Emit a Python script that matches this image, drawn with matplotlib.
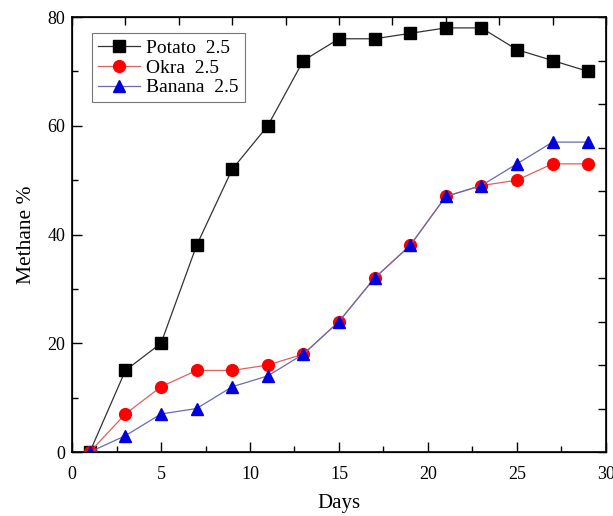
import numpy as np
import matplotlib
matplotlib.use("Agg")
import matplotlib.pyplot as plt
from matplotlib.ticker import MultipleLocator, NullFormatter

# ── Data ─────────────────────────────────────────────────
days   = [1, 3, 5, 7, 9, 11, 13, 15, 17, 19, 21, 23, 25, 27, 29]
potato = [0, 15, 20, 38, 52, 60, 72, 76, 76, 77, 78, 78, 74, 72, 70]
okra   = [0, 7, 12, 15, 15, 16, 18, 24, 32, 38, 47, 49, 50, 53, 53]
banana = [0, 3, 7, 8, 12, 14, 18, 24, 32, 38, 47, 49, 53, 57, 57]

plt.rcParams["font.family"] = ["Liberation Serif", "DejaVu Serif"]

fig = plt.figure(figsize=(6.13, 5.16), dpi=100)
ax = fig.add_axes([0.1175, 0.124, 0.871, 0.843])

ax.plot(days, potato, color="#333333", lw=0.9, marker="s", ms=8,
        mfc="black", mec="black", label="Potato  2.5", zorder=3)
ax.plot(days, okra, color="#e06060", lw=0.9, marker="o", ms=8.5,
        mfc="red", mec="red", label="Okra  2.5", zorder=4)
ax.plot(days, banana, color="#6a6ab0", lw=0.9, marker="^", ms=9,
        mfc="#0000dd", mec="#0000dd", label="Banana  2.5", zorder=5)

ax.set_xlim(0, 30)
ax.set_ylim(0, 80)
ax.xaxis.set_major_locator(MultipleLocator(5))
ax.xaxis.set_minor_locator(MultipleLocator(2.5))
ax.yaxis.set_major_locator(MultipleLocator(20))
ax.yaxis.set_minor_locator(MultipleLocator(10))
ax.tick_params(which="both", direction="in", labelsize=13, width=1)
ax.tick_params(which="major", length=7)
ax.tick_params(which="minor", length=4.5)
ax.tick_params(axis="x", pad=10)
ax.tick_params(axis="y", pad=5)
for sp in ax.spines.values():
    sp.set_linewidth(1.2)

ax.set_xlabel("Days", fontsize=15, labelpad=8)
ax.set_ylabel("Methane %", fontsize=15.5, labelpad=8)

# top and right ticks in their own scales, no labels
top = ax.twiny()
top.set_xlim(0, 30)
top.xaxis.set_major_locator(MultipleLocator(3))
top.xaxis.set_major_formatter(NullFormatter())
top.tick_params(direction="in", length=6, width=1)

right = ax.twinx()
right.set_ylim(0, 100)
right.yaxis.set_major_locator(MultipleLocator(10))
right.yaxis.set_major_formatter(NullFormatter())
right.tick_params(direction="in", length=6, width=1)

leg = ax.legend(loc="upper left", bbox_to_anchor=(0.037, 0.963), fontsize=14,
                frameon=True, fancybox=False, edgecolor="#555555",
                handlelength=2.2, borderpad=0.3, labelspacing=0.12,
                handletextpad=0.3, borderaxespad=0)
leg.get_frame().set_linewidth(0.8)

plt.savefig("out.png", dpi=100)
plt.close()
